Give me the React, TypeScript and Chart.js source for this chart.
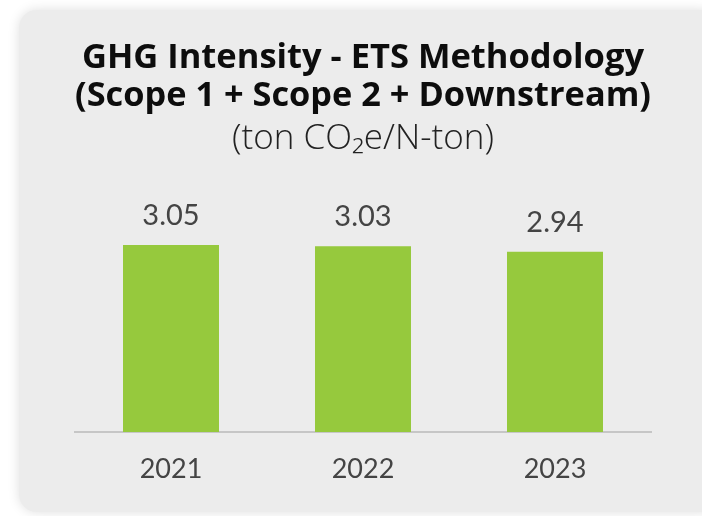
import React, { useEffect, useRef } from "react";
import { Chart, registerables } from "chart.js";

Chart.register(...registerables);

const categories = ["2021", "2022", "2023"];
const values = [3.05, 3.03, 2.94];
const titleLines = ["GHG Intensity - ETS Methodology", "(Scope 1 + Scope 2 + Downstream)"];
const subtitleText = "(ton CO₂e/N-ton)";

const NUM_FONT = "Lato";
const TITLE_FONT = "'Open Sans'";

const valueLabels = {
  id: "valueLabels",
  afterDatasetsDraw(chart: any) {
    const ctx = chart.ctx;
    const meta = chart.getDatasetMeta(0);
    ctx.save();
    ctx.font = `400 29px ${NUM_FONT}`;
    ctx.fillStyle = "#444444";
    ctx.textAlign = "center";
    ctx.textBaseline = "middle";
    meta.data.forEach((el: any, i: number) => {
      const v = chart.data.datasets[0].data[i] as number;
      ctx.fillText(v.toFixed(2), el.x, el.y - 29.5);
    });
    ctx.restore();
  },
};

export default function App() {
  const ref = useRef<HTMLCanvasElement | null>(null);

  useEffect(() => {
    document.body.style.margin = "0";
    const canvas = ref.current!;
    const chart = new Chart(canvas, {
      type: "bar",
      data: {
        labels: categories,
        datasets: [
          {
            data: values,
            backgroundColor: "#96c93d",
            borderWidth: 0,
            categoryPercentage: 0.5,
            barPercentage: 1,
          },
        ],
      },
      options: {
        animation: false,
        responsive: false,
        devicePixelRatio: 1,
        layout: { padding: { left: 75, right: 51, top: 39.5, bottom: 9 } },
        plugins: {
          legend: { display: false },
          tooltip: { enabled: false },
          title: {
            display: true,
            text: titleLines,
            color: "#0d0d0d",
            font: { family: TITLE_FONT, size: 34.5, weight: "bold", lineHeight: 1.101 },
            padding: { top: 0, bottom: 0 },
          },
          subtitle: {
            display: true,
            text: subtitleText,
            color: "#222222",
            font: { family: TITLE_FONT, size: 35, weight: "300", lineHeight: 1.2 },
            padding: { top: 3, bottom: 57 },
          },
        },
        scales: {
          x: {
            grid: { display: false, drawTicks: false },
            border: { display: true, color: "#c6c6c6", width: 2 },
            ticks: { color: "#444444", font: { family: NUM_FONT, size: 27 }, padding: 21.3 },
          },
          y: { display: false, min: 0, max: 3.5 },
        },
      },
      plugins: [valueLabels],
    });
    return () => chart.destroy();
  }, []);

  return (
    <div style={{ position: "relative", width: 702, height: 516, overflow: "hidden", background: "#ffffff" }}>
      <div
        style={{
          position: "absolute",
          left: 19,
          top: 10,
          width: 700,
          height: 502,
          borderRadius: 18,
          background: "#ececec",
          boxShadow: "0 0 12px rgba(0,0,0,0.13)",
        }}
      />
      <canvas ref={ref} width={702} height={516} style={{ position: "absolute", left: 0, top: 0 }} />
    </div>
  );
}
